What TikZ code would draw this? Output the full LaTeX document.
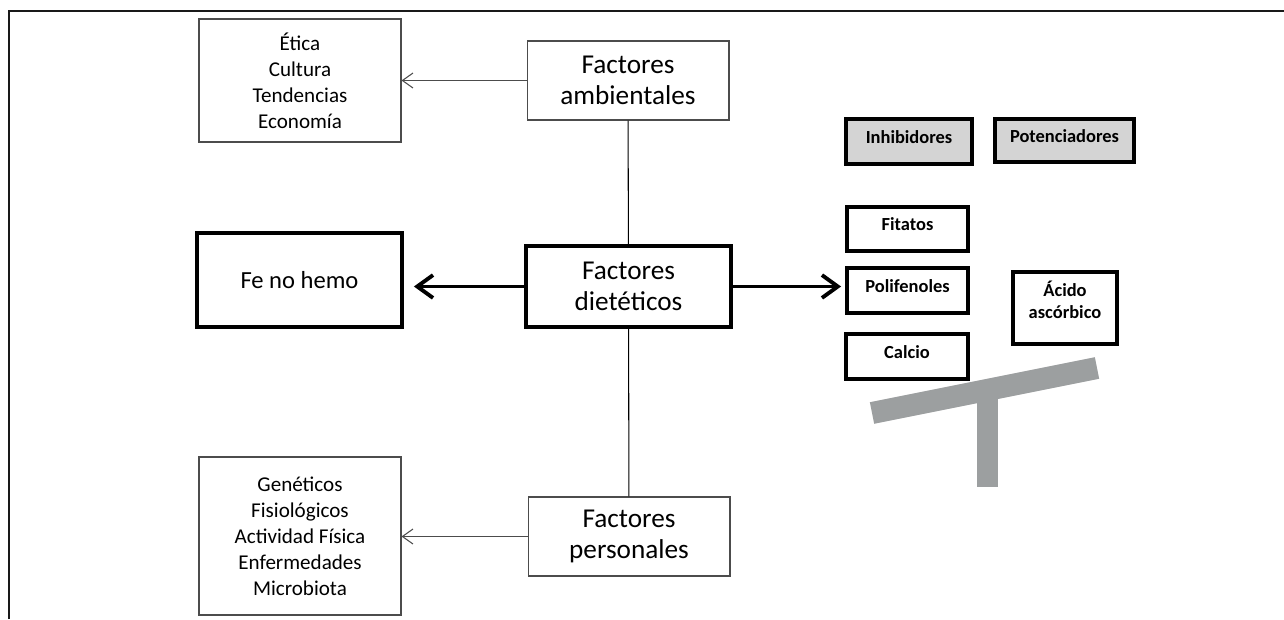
\documentclass[tikz,border=0pt]{standalone}
\usepackage{fontspec}
\setmainfont{Carlito}
\usetikzlibrary{arrows.meta,positioning,calc}
\definecolor{tagfill}{HTML}{D4D4D4}
\definecolor{seesaw}{HTML}{9C9FA0}
\newcommand{\lift}[1]{\raisebox{2.6pt}[\height][\depth]{#1}}

\begin{document}
\begin{tikzpicture}[x=0.02cm, y=-0.02cm,
  every node/.style={align=center, inner sep=0pt},
  thinbox/.style={draw=black!70, line width=0.6pt, minimum width=4.04cm},
  mainbox/.style={thinbox, font=\fontsize{15.5}{17.6}\selectfont, minimum height=1.58cm},
  listbox/.style={thinbox, font=\fontsize{12}{14.8}\selectfont},
  thickbox/.style={draw=black, line width=2.2pt},
  tagbox/.style={thickbox, font=\bfseries\fontsize{10.5}{12.5}\selectfont},
  thinarrow/.style={draw=black!70, line width=0.6pt, -{Straight Barb[length=6pt, width=8.5pt]}},
  boldarrow/.style={line width=2.2pt, -{Straight Barb[length=9pt, width=13pt]}}
]
  \useasboundingbox (0,0) rectangle (1284,619);
  \draw[line width=1.4pt, black!90] (9,619) -- (9,11) -- (1284,11);

  \node[mainbox] (amb) at (628,80.5) {Factores\\ambientales};
  \node[mainbox, thickbox, minimum width=4.1cm, minimum height=1.62cm] (diet) at (628.5,286.5) {Factores\\dietéticos};
  \node[mainbox] (pers) at (629,536.5) {Factores\\personales};

  \node[listbox, minimum height=2.46cm] (etica) at (300,80.5) {Ética\\Cultura\\Tendencias\\Economía};
  \node[listbox, minimum height=3.16cm] (gen) at (300,536) {Genéticos\\Fisiológicos\\Actividad Física\\Enfermedades\\Microbiota};
  \node[thickbox, font=\fontsize{14}{17}\selectfont, minimum width=4.1cm, minimum height=1.88cm] (fe) at (299.5,280) {Fe no hemo};

  \node[tagbox, fill=tagfill, minimum width=2.52cm, minimum height=0.9cm] (inh) at (909,141.5) {\lift{Inhibidores}};
  \node[tagbox, fill=tagfill, minimum width=2.78cm, minimum height=0.86cm] (pot) at (1064.5,140.5) {\lift{Potenciadores}};
  \node[tagbox, minimum width=2.42cm, minimum height=0.88cm] (fit) at (907.5,229) {\lift{Fitatos}};
  \node[tagbox, minimum width=2.42cm, minimum height=0.9cm] (pol) at (907.5,290.5) {\lift{Polifenoles}};
  \node[tagbox, minimum width=2.44cm, minimum height=0.9cm] (cal) at (907,356.5) {\lift{Calcio}};
  \node[tagbox, minimum width=2.08cm, minimum height=1.44cm] (acido) at (1065,308) {\lift{\begin{tabular}{@{}c@{}}Ácido\\ascórbico\end{tabular}}};

  \draw[line width=0.6pt] (amb) -- (diet);
  \draw[line width=0.6pt] (diet) -- (pers);
  \draw[thinarrow] (amb) -- (etica);
  \draw[thinarrow] (pers.west) -- (pers.west -| gen.east);
  \draw[boldarrow, shorten >=0.2cm] (diet.west) -- (diet.west -| fe.east);
  \draw[boldarrow, shorten >=0.08cm] (diet.east) -- (diet.east -| pol.west);

  \draw[seesaw, line width=0.42cm] (987.5,392) -- (987.5,487);
  \draw[seesaw, line width=0.44cm, rounded corners=1pt] (872,413) -- (1097,368);
\end{tikzpicture}
\end{document}
